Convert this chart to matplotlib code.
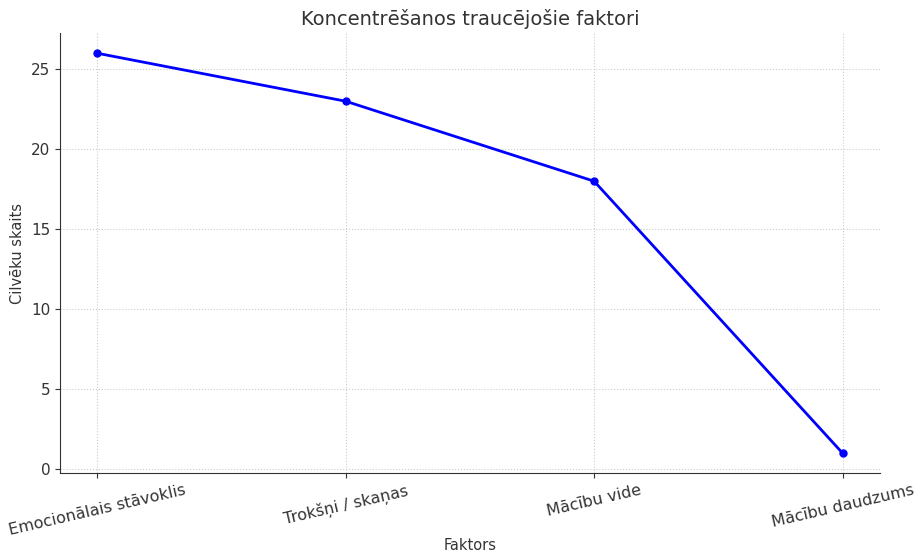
import matplotlib.pyplot as plt

# data
faktori = ['Emocionālais stāvoklis', 'Trokšņi / skaņas', 'Mācību vide', 'Mācību daudzums']
skaits = [26, 23, 18, 1]

plt.rcParams['font.family'] = ['DejaVu Sans']
plt.rcParams['text.color'] = '#333333'
plt.rcParams['axes.labelcolor'] = '#333333'
plt.rcParams['xtick.color'] = '#333333'
plt.rcParams['ytick.color'] = '#333333'

fig = plt.figure(figsize=(9.14, 5.54), dpi=100)
ax = fig.add_axes([0.0656, 0.146, 0.897, 0.794])

x = range(len(faktori))
ax.plot(x, skaits, color='blue', linewidth=2, marker='o', markersize=5)

ax.set_xticks(list(x))
ax.set_xticklabels(faktori, rotation=13, ha='center', fontsize=11.5)
ax.tick_params(axis='y', labelsize=11)
ax.set_xlabel('Faktors', fontsize=10.5, labelpad=0)
ax.set_ylabel('Cilvēku skaits', fontsize=10.5)
ax.set_title('Koncentrēšanos traucējošie faktori', fontsize=14)

ax.grid(True, linestyle=':', color='#cccccc', linewidth=0.8)
ax.spines['top'].set_visible(False)
ax.spines['right'].set_visible(False)
ax.spines['left'].set_color('#333333')
ax.spines['bottom'].set_color('#333333')

plt.savefig('out.png', dpi=100)
